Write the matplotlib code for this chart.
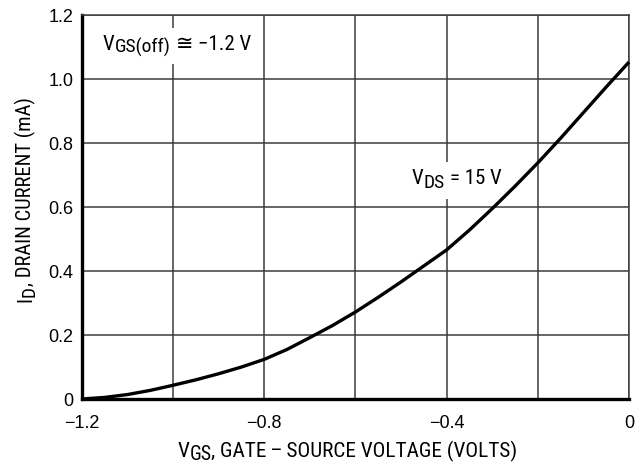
import matplotlib
matplotlib.use("Agg")
import matplotlib.pyplot as plt
import matplotlib.transforms as mtransforms
from matplotlib import font_manager as fm
from matplotlib.font_manager import FontProperties
import numpy as np

vgs = [-1.2, -1.15, -1.1, -1.05, -1.0, -0.95, -0.9, -0.85, -0.8, -0.75, -0.7, -0.65,
       -0.6, -0.55, -0.5, -0.45, -0.4, -0.35, -0.3, -0.25, -0.2, -0.15, -0.1, -0.05, 0.0]
id_ma = [0.0, 0.005, 0.014, 0.027, 0.043, 0.06, 0.079, 0.1, 0.124, 0.155, 0.192, 0.23,
         0.272, 0.318, 0.366, 0.416, 0.466, 0.528, 0.595, 0.665, 0.738, 0.815, 0.895, 0.975, 1.053]

xticks = [-1.2, -0.8, -0.4, 0.0]
xtick_labels = ["\u22121.2", "\u22120.8", "\u22120.4", "0"]
yticks = [0, 0.2, 0.4, 0.6, 0.8, 1.0, 1.2]
ytick_labels = ["0", "0.2", "0.4", "0.6", "0.8", "1.0", "1.2"]

plt.rcParams['font.family'] = ['Liberation Sans', 'DejaVu Sans']

# narrow font for labels if available
names = {f.name for f in fm.fontManager.ttflist}
if 'Liberation Sans Narrow' in names:
    label_family, label_scale = ['Liberation Sans Narrow', 'DejaVu Sans'], 1.0
elif 'Roboto Condensed' in names:
    label_family, label_scale = ['Roboto Condensed', 'DejaVu Sans'], 1.0
else:
    label_family, label_scale = ['Liberation Sans', 'DejaVu Sans'], 0.86


def fp(size):
    return FontProperties(family=label_family, size=size * label_scale)


W, H = 642, 463
fig = plt.figure(figsize=(W / 100, H / 100), dpi=100)
ax = fig.add_axes([82 / W, (H - 399) / H, 547 / W, 384 / H])

ax.set_xlim(-1.2, 0)
ax.set_ylim(0, 1.2)
ax.set_xticks(np.arange(-1.2, 0.01, 0.2), minor=True)
ax.set_xticks(xticks)
ax.set_xticklabels(xtick_labels)
ax.set_yticks(yticks)
ax.set_yticklabels(ytick_labels)
ax.tick_params(axis='both', which='both', length=0, labelsize=13)
ax.tick_params(axis='x', pad=11.5)
ax.tick_params(axis='y', pad=6)
ax.grid(True, which='both', color='#3c3c3c', linewidth=1.1)
ax.set_axisbelow(True)

for s in ['left', 'bottom']:
    ax.spines[s].set_linewidth(2.4)
    ax.spines[s].set_color('black')
for s in ['top', 'right']:
    ax.spines[s].set_linewidth(1.1)
    ax.spines[s].set_color('#3c3c3c')

ax.plot(vgs, id_ma, color='black', linewidth=2.4, solid_capstyle='butt',
        solid_joinstyle='round', zorder=3, clip_on=False)

renderer = fig.canvas.get_renderer()


def adv(s, prop):
    a = renderer.get_text_width_height_descent("|" + s + "|", prop, ismath=False)[0]
    b = renderer.get_text_width_height_descent("||", prop, ismath=False)[0]
    return a - b


def rich(target, x, y, transform, parts, ha='left', rotation=0, bg=None, zorder=2):
    # parts: (text, prop, baseline shift in px, leading gap string)
    items = []
    pos = 0.0
    for text, prop, dy, gap in parts:
        if gap:
            pos += adv(gap, prop)
        items.append((text, prop, dy, pos))
        pos += adv(text, prop)
    start = 0.0 if ha == 'left' else -pos / 2
    for text, prop, dy, p in items:
        d = start + p
        if rotation == 0:
            ox, oy = d, dy
        else:
            ox, oy = -dy, d
        tr = mtransforms.offset_copy(transform, fig=fig, x=ox, y=oy, units='dots')
        if bg is not None:
            target.text(x, y, text, fontproperties=prop, transform=tr, ha='left',
                        va='baseline', rotation=rotation, rotation_mode='anchor',
                        color='none', bbox=bg, zorder=zorder)
        target.text(x, y, text, fontproperties=prop, transform=tr, ha='left',
                    va='baseline', rotation=rotation, rotation_mode='anchor',
                    color='black', zorder=zorder + 0.1)


box = dict(facecolor='white', edgecolor='none', pad=5)

rich(ax, -1.154, (399 - 50) / 384 * 1.2, ax.transData,
     [("V", fp(15), 0, ""), ("GS(off)", fp(14), -3, ""),
      ("\u2245", fp(15), 0, " "), ("\u22121.2 V", fp(15), 0, " ")], bg=box)
rich(ax, -0.476, (399 - 184) / 384 * 1.2, ax.transData,
     [("V", fp(15), 0, ""), ("DS", fp(14), -4, ""), ("= 15 V", fp(15), 0, " ")], bg=box)

rich(fig, 347.5 / W, (H - 457) / H, fig.transFigure,
     [("V", fp(15.3), 0, ""), ("GS", fp(14.3), -3.5, ""),
      (", GATE\u2009\u2013\u2009SOURCE VOLTAGE (VOLTS)", fp(15.3), 0, "")], ha='center')
rich(fig, 31 / W, (H - 200) / H, fig.transFigure,
     [("I", fp(14.8), 0, ""), ("D", fp(13.8), -4, ""),
      (", DRAIN CURRENT (mA)", fp(14.8), 0, "")], ha='center', rotation=90)

fig.savefig("out.png", dpi=100)
